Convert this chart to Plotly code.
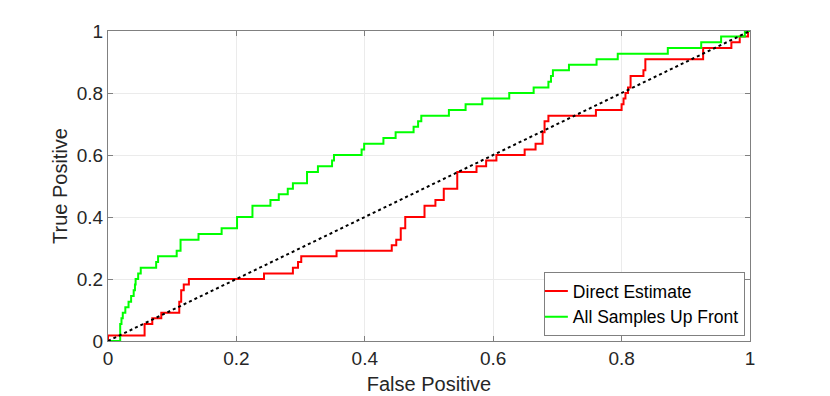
import plotly.graph_objects as go

# ROC curve corner points (step curves, horizontal then vertical)
fpr_direct = [0, 0, 0.057, 0.069, 0.083, 0.111, 0.114, 0.118, 0.126, 0.243, 0.288, 0.296, 0.301,
              0.356, 0.442, 0.449, 0.456, 0.463, 0.493, 0.510, 0.523, 0.544, 0.574, 0.589, 0.605,
              0.649, 0.666, 0.677, 0.680, 0.686, 0.760, 0.800, 0.803, 0.806, 0.810, 0.814, 0.834,
              0.837, 0.927, 0.971, 0.984, 0.997, 1.0]
tpr_direct = [0, 0.018, 0.055, 0.073, 0.091, 0.127, 0.164, 0.182, 0.2, 0.218, 0.236, 0.255, 0.273,
              0.291, 0.309, 0.327, 0.364, 0.4, 0.436, 0.455, 0.491, 0.545, 0.564, 0.582, 0.6,
              0.618, 0.636, 0.673, 0.709, 0.727, 0.745, 0.764, 0.782, 0.8, 0.818, 0.855, 0.873,
              0.909, 0.945, 0.964, 0.982, 1.0, 1.0]

fpr_upfront = [0, 0.019, 0.021, 0.023, 0.027, 0.032, 0.036, 0.040, 0.042, 0.043, 0.047, 0.051,
               0.075, 0.078, 0.107, 0.113, 0.141, 0.177, 0.201, 0.225, 0.253, 0.266, 0.280, 0.288,
               0.310, 0.327, 0.349, 0.352, 0.395, 0.399, 0.429, 0.448, 0.476, 0.483, 0.488, 0.531,
               0.557, 0.583, 0.625, 0.663, 0.686, 0.690, 0.693, 0.718, 0.761, 0.794, 0.872, 0.924,
               0.955, 0.992, 1.0]
tpr_upfront = [0, 0.055, 0.073, 0.091, 0.109, 0.127, 0.145, 0.164, 0.182, 0.2, 0.218, 0.236,
               0.255, 0.273, 0.291, 0.327, 0.345, 0.364, 0.4, 0.436, 0.455, 0.473, 0.491, 0.509,
               0.545, 0.564, 0.582, 0.6, 0.618, 0.636, 0.655, 0.673, 0.691, 0.709, 0.727, 0.745,
               0.764, 0.782, 0.8, 0.818, 0.836, 0.855, 0.873, 0.891, 0.909, 0.927, 0.945, 0.964,
               0.982, 1.0, 1.0]

chance_x = [0, 1]
chance_y = [0, 1]

tick_vals = [0, 0.2, 0.4, 0.6, 0.8, 1]
tick_text = ["0", "0.2", "0.4", "0.6", "0.8", "1"]

fig = go.Figure()
fig.add_trace(go.Scatter(x=fpr_direct, y=tpr_direct, mode="lines", name="Direct Estimate",
                         line=dict(color="#ff0000", width=2, shape="hv")))
fig.add_trace(go.Scatter(x=fpr_upfront, y=tpr_upfront, mode="lines", name="All Samples Up Front",
                         line=dict(color="#00ff00", width=2, shape="hv")))
fig.add_trace(go.Scatter(x=chance_x, y=chance_y, mode="lines", showlegend=False,
                         line=dict(color="black", width=2, dash="dot")))

axis_style = dict(
    range=[0, 1], tickvals=tick_vals, ticktext=tick_text, automargin=False,
    showline=True, linecolor="#808080", linewidth=1, mirror="ticks",
    ticks="inside", ticklen=5, tickcolor="#808080",
    showgrid=True, gridcolor="#ebebeb", gridwidth=1, zeroline=False,
    tickfont=dict(size=19, color="#262626"),
)

# the page body adds an 8px offset, so the figure is sized to compensate
fig.update_layout(
    width=822, height=388,
    margin=dict(l=100, r=80, t=23, b=55, autoexpand=False),
    paper_bgcolor="white", plot_bgcolor="white",
    font=dict(family="Liberation Sans, Arial, sans-serif", size=19, color="#262626"),
    xaxis=dict(axis_style, title=dict(text="False Positive", standoff=9, font=dict(size=20))),
    yaxis=dict(axis_style, title=dict(text="True Positive", standoff=3, font=dict(size=20))),
    legend=dict(x=0.992, y=0.016, xanchor="right", yanchor="bottom",
                bgcolor="white", bordercolor="#808080", borderwidth=1,
                font=dict(size=17.5, color="black"), itemwidth=30,
                indentation=-12, tracegroupgap=0),
    showlegend=True,
)

fig.write_html("out.html")
